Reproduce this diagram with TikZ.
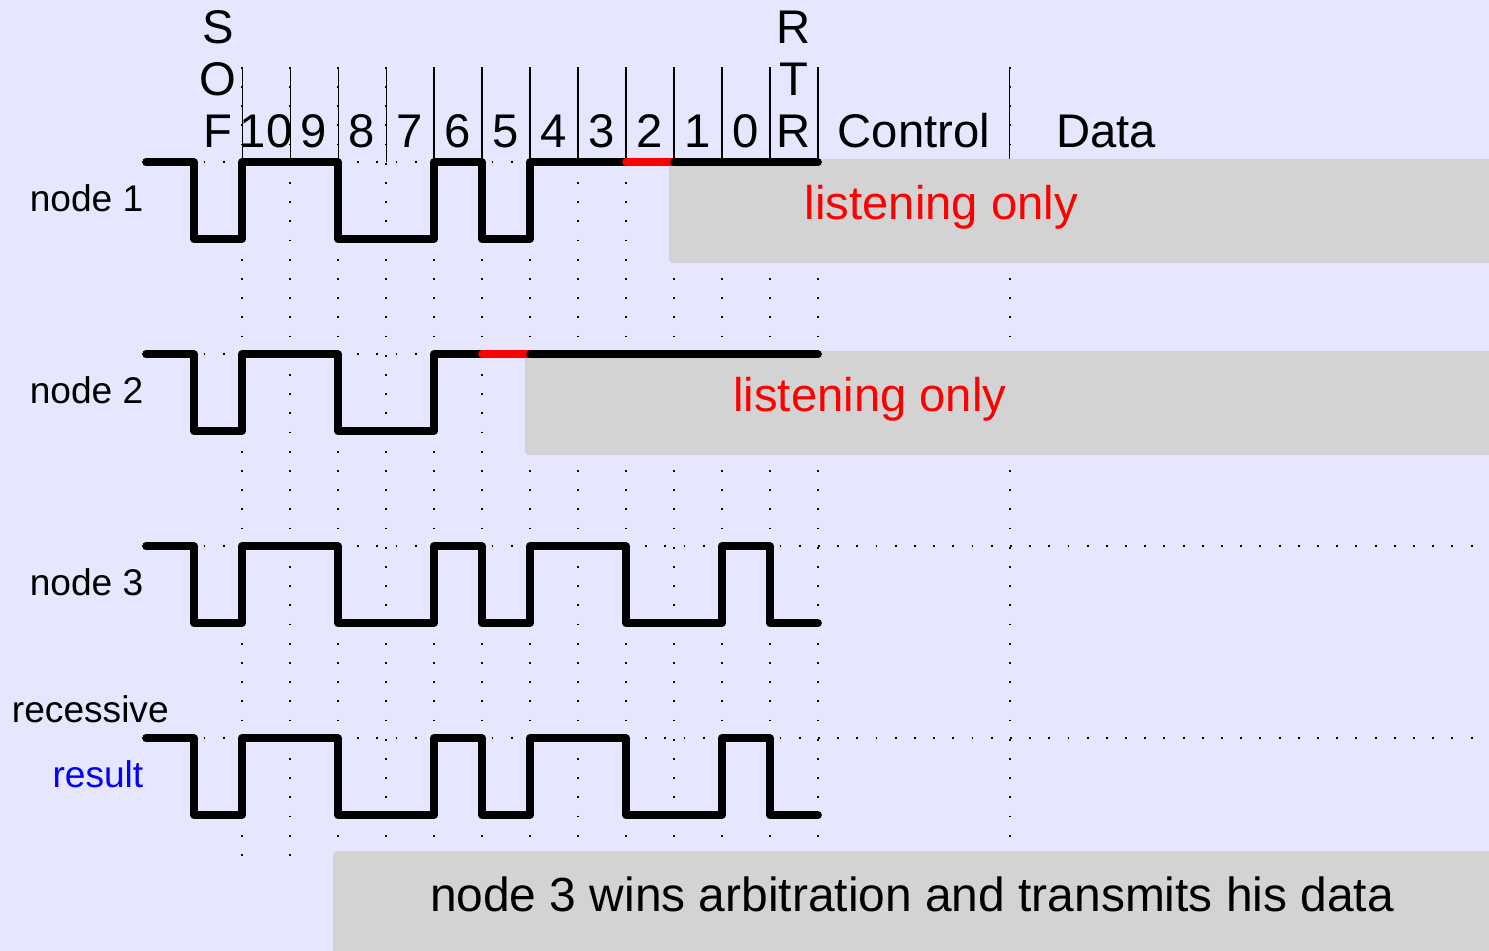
\documentclass[tikz,border=0pt]{standalone}
\usepackage{fontspec}
\setmainfont{Liberation Sans}
\definecolor{bgcol}{RGB}{230,230,255}
\definecolor{boxgray}{RGB}{211,211,211}
% bit pattern that node 3 sends (and the bus shows)
\newcommand{\winwave}{(-1,0) -| (0,-1.6) -| (1,0) -| (3,-1.6) -| (5,0) -| (6,-1.6) -| (7,0) -| (9,-1.6) -| (11,0) -| (12,-1.6) -- (13,-1.6)}
\begin{document}
\begin{tikzpicture}[x=1cm,y=1cm,
	signal/.style={line width=4.6pt,line cap=round,line join=round},
	gridline/.style={line width=1.1pt,dash pattern=on 1.1pt off 10.28pt},
	lbl/.style={font=\fontsize{22}{26}\selectfont,anchor=base east,inner sep=0pt},
	hdr/.style={font=\fontsize{28}{31}\selectfont,anchor=south,inner sep=0pt,align=center},
	greybox/.style={fill=boxgray,rounded corners=2pt},
	boxtext/.style={font=\fontsize{28}{31}\selectfont,anchor=base,inner sep=0pt}]
	\useasboundingbox[fill=bgcol] (-4.042,0) rectangle (26.98,19.8125);
	\clip (-4.042,0) rectangle (26.98,19.8125);

	% dotted grid
	\foreach \x in {1,...,13,17}
		\draw[gridline] (\x,18.42) -- (\x,1.95);
	\foreach \y in {16.43,12.43,8.43,4.43}
		\draw[gridline] (-1,\y) -- (27,\y);

	% field borders
	\foreach \x in {1,...,13,17}
		\draw[line width=0.6pt] (\x,16.43) -- (\x,18.42);

	% field names
	\node[hdr] (sof) at (0.5,16.73) {S\\O\\F};
	\foreach \b [count=\i] in {10,9,...,0}
		\node[hdr] (id\b) at (\i+0.5,16.73) {\b};
	\node[hdr] (rtr) at (12.5,16.73) {R\\T\\R};
	\node[hdr] (ctrl) at (15,16.73) {Control};
	\node[hdr] (data) at (19,16.73) {Data};

	% node 1
	\begin{scope}[yshift=16.43cm]
		\fill[greybox] (9.9,0.07) rectangle (27.5,-2.1);
		\node[boxtext,red] (listen1) at (15.57,-1.2) {listening only};
		\draw[signal] (-1,0) -| (0,-1.6) -| (1,0) -| (3,-1.6) -| (5,0) -| (6,-1.6) -| (7,0) -- (9,0);
		\draw[signal,red] (9,0) -- (10,0);
		\draw[signal] (10,0) -- (13,0);
		\node[lbl] (node1) at (-1.05,-1.03) {node 1};
	\end{scope}

	% node 2
	\begin{scope}[yshift=12.43cm]
		\fill[greybox] (6.9,0.07) rectangle (27.5,-2.1);
		\node[boxtext,red] (listen2) at (14.08,-1.2) {listening only};
		\draw[signal] (-1,0) -| (0,-1.6) -| (1,0) -| (3,-1.6) -| (5,0) -- (6,0);
		\draw[signal,red] (6,0) -- (7,0);
		\draw[signal] (7,0) -- (13,0);
		\node[lbl] (node2) at (-1.05,-1.03) {node 2};
	\end{scope}

	% node 3
	\begin{scope}[yshift=8.43cm]
		\draw[signal] \winwave;
		\node[lbl] (node3) at (-1.05,-1.03) {node 3};
	\end{scope}

	% bus level
	\begin{scope}[yshift=4.43cm]
		\draw[signal] \winwave;
		\node[lbl] (recessive) at (-0.52,0.34) {recessive};
		\node[lbl,blue] (result) at (-1.05,-1.03) {result};
	\end{scope}

	\fill[greybox] (2.9,2.08) rectangle (27.5,-1);
	\node[boxtext,font=\fontsize{28.4}{31}\selectfont] (wins) at (14.96,0.8125) {node 3 wins arbitration and transmits his data};
\end{tikzpicture}
\end{document}
